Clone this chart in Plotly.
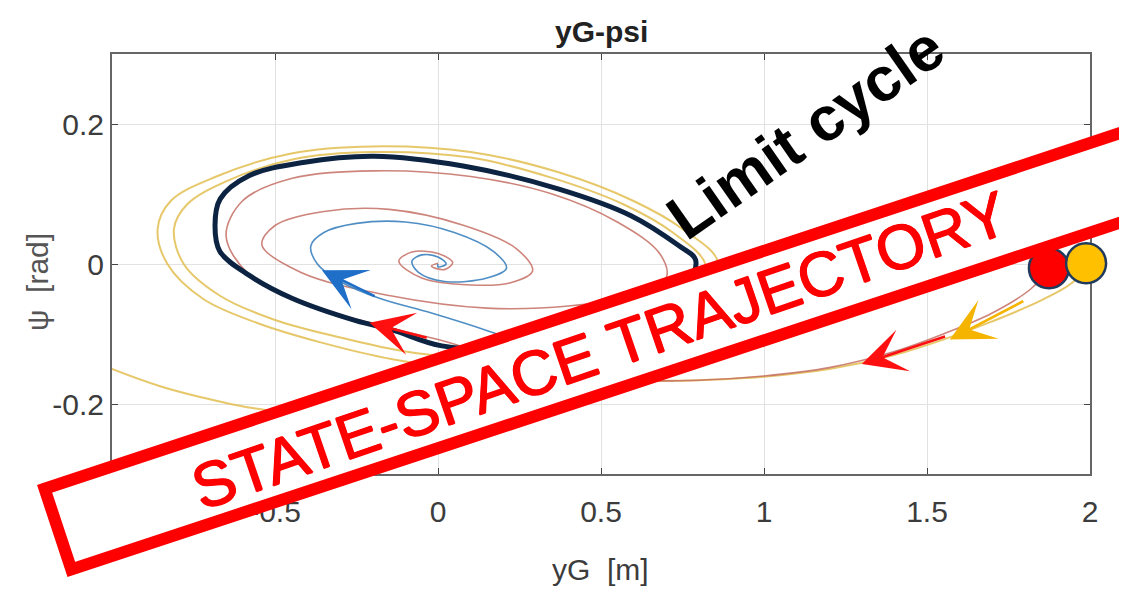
import plotly.graph_objects as go

# ---------------- data ----------------
x_tick_vals = [-0.5, 0, 0.5, 1, 1.5, 2]
x_tick_text = ["-0.5", "0", "0.5", "1", "1.5", "2"]
y_tick_vals = [-0.2, 0, 0.2]
y_tick_text = ["-0.2", "0", "0.2"]
x_range = [-1, 2]
y_range = [-0.3, 0.3]

# limit cycle (closed loop)
limit_x = [0.79, 0.736, 0.592, 0.371, 0.077, -0.196, -0.414, -0.58, -0.668, -0.684, -0.669, -0.58,
           -0.448, -0.252, -0.141, 0.012, 0.25, 0.5, 0.68, 0.77, 0.79]
limit_y = [0.006, 0.027, 0.069, 0.107, 0.140, 0.154, 0.145, 0.126, 0.093, 0.055, 0.018, -0.016,
           -0.049, -0.081, -0.094, -0.117, -0.12, -0.1, -0.06, -0.025, 0.006]

# yellow trajectory from the orange start point (first big swing)
yel_a_x = [1.99, 1.95, 1.85, 1.7, 1.55, 1.4, 1.2, 1.0, 0.8, 0.6, 0.3, 0.0, -0.25, -0.45, -0.58, -0.73, -0.85, -1.0, -1.1]
yel_a_y = [0.0, -0.025, -0.052, -0.082, -0.108, -0.13, -0.15, -0.161, -0.166, -0.168, -0.18, -0.2, -0.21, -0.212, -0.205, -0.19, -0.175, -0.15, -0.13]

# yellow spiral loops
yel_b_x = [0.75, 0.86, 0.75, 0.6, 0.37, 0.1, -0.2, -0.45, -0.68, -0.82, -0.86, -0.83, -0.72, -0.55, -0.36,
           -0.14, 0.1, 0.4, 0.65, 0.8, 0.82, 0.72, 0.57, 0.35, 0.1, -0.2, -0.44, -0.65, -0.77, -0.81,
           -0.78, -0.67, -0.5, -0.3, -0.1, 0.15, 0.45, 0.65]
yel_b_y = [-0.08, 0.0, 0.05, 0.09, 0.131, 0.16, 0.168, 0.158, 0.125, 0.09, 0.05, 0.0, -0.05, -0.085, -0.112,
           -0.136, -0.15, -0.14, -0.1, -0.045, 0.0, 0.045, 0.085, 0.123, 0.152, 0.16, 0.15, 0.118, 0.085, 0.05,
           0.0, -0.045, -0.08, -0.105, -0.125, -0.135, -0.12, -0.085]

# red trajectory from the red start point
red_x = [1.874, 1.82, 1.7, 1.55, 1.4, 1.2, 1.0, 0.8, 0.6, 0.4, 0.2, 0.0, -0.21, -0.42, -0.58, -0.65, -0.6,
         -0.45, -0.2, 0.1, 0.35, 0.55, 0.68, 0.7, 0.6, 0.4, 0.15, -0.15, -0.42, -0.54, -0.5, -0.35, -0.15,
         0.08, 0.24, 0.29, 0.22, 0.1, -0.05, -0.12, -0.08, 0.0, 0.045, 0.02, -0.02, 0.0]
red_y = [-0.006, -0.035, -0.07, -0.1, -0.125, -0.148, -0.16, -0.166, -0.166, -0.155, -0.135, -0.108, -0.084,
         -0.055, -0.015, 0.04, 0.09, 0.122, 0.133, 0.125, 0.1, 0.06, 0.015, -0.02, -0.045, -0.06, -0.063,
         -0.045, -0.012, 0.027, 0.055, 0.075, 0.078, 0.055, 0.022, -0.01, -0.027, -0.03, -0.02, 0.004, 0.017,
         0.015, 0.002, -0.008, -0.003, 0.001]

# blue trajectory
blue_x = [0.35, 0.156, -0.02, -0.18, -0.3, -0.37, -0.39, -0.35, -0.25, -0.1, 0.05, 0.17, 0.21, 0.15, 0.02,
          -0.06, -0.08, -0.05, 0.0, 0.025, 0.0, 0.0]
blue_y = [-0.13, -0.096, -0.07, -0.049, -0.025, 0.0, 0.026, 0.045, 0.058, 0.06, 0.045, 0.018, -0.006, -0.02,
          -0.025, -0.012, 0.004, 0.013, 0.01, 0.0, -0.004, 0.0]

# start points: [orange, red]
start_x = [1.988, 1.874]
start_y = [0.001, -0.006]
start_colors = ["#FFC000", "#FF0000"]

# direction arrows
arrow_tip_x = [-0.356, -0.21, 1.30, 1.57]
arrow_tip_y = [-0.009, -0.084, -0.143, -0.108]
arrow_tail_x = [-0.19, -0.03, 1.56, 1.80]
arrow_tail_y = [-0.047, -0.106, -0.103, -0.052]
arrow_colors = ["#1f6fc8", "#ff1010", "#ff1010", "#f5b400"]

# ---------------- layout geometry ----------------
W, H = 1127, 598
OFF = 8                      # page body margin of the rendered html
PL, PR, PT, PB = 112, 1090, 54, 474   # plot area on screen (px)
L, T = PL - OFF, PT - OFF
PW, PH = PR - PL, PB - PT
R, B = W - L - PW, H - T - PH
MARK_R = 20                  # start marker radius (px)


def px2paper(px, py):
    return (px - PL) / PW, (PB - py) / PH


def data2paper(x, y):
    return (x - x_range[0]) / (x_range[1] - x_range[0]), (y - y_range[0]) / (y_range[1] - y_range[0])


# red band (stroke centre line), screen px
band_px = [(44.6, 488.8), (1278.8, 80.6), (1305.5, 161.3), (71.3, 569.5)]

fig = go.Figure()

tick_font = dict(family="Liberation Sans Narrow, Arial Narrow, Liberation Sans, Arial", size=30, color="#3c3c3c")
spl = dict(shape="spline", smoothing=1.0)

fig.add_trace(go.Scatter(x=yel_a_x, y=yel_a_y, mode="lines", line=dict(color="rgba(226,190,80,0.85)", width=2, **spl), hoverinfo="skip"))
fig.add_trace(go.Scatter(x=yel_b_x, y=yel_b_y, mode="lines", line=dict(color="rgba(226,190,80,0.85)", width=2, **spl), hoverinfo="skip"))
fig.add_trace(go.Scatter(x=red_x, y=red_y, mode="lines", line=dict(color="rgba(196,110,100,0.85)", width=1.6, **spl), hoverinfo="skip"))
fig.add_trace(go.Scatter(x=blue_x, y=blue_y, mode="lines", line=dict(color="rgba(60,130,190,0.9)", width=1.6, **spl), hoverinfo="skip"))
fig.add_trace(go.Scatter(x=limit_x, y=limit_y, mode="lines", line=dict(color="#0c2342", width=5, **spl), hoverinfo="skip"))

axis_common = dict(showgrid=True, gridcolor="#e2e2e2", gridwidth=1, zeroline=False, showline=True,
                   linecolor="#666666", linewidth=2, mirror="ticks", ticks="inside", ticklen=6,
                   tickcolor="#444444", tickfont=tick_font)
fig.update_xaxes(range=x_range, tickvals=x_tick_vals, ticktext=x_tick_text, ticklabelstandoff=10, **axis_common)
fig.update_yaxes(range=y_range, tickvals=y_tick_vals, ticktext=y_tick_text, ticklabelstandoff=0, **axis_common)

shapes = []
pts = [px2paper(*p) for p in band_px]
path = "M " + " L ".join(f"{x:.4f},{y:.4f}" for x, y in pts) + " Z"
shapes.append(dict(type="path", path=path, xref="paper", yref="paper", layer="above",
                   fillcolor="white", line=dict(color="#ff0000", width=12)))
# orange start point sits on top of the band
ox, oy = data2paper(start_x[0], start_y[0])
shapes.append(dict(type="circle", xref="paper", yref="paper", layer="above", xsizemode="pixel", ysizemode="pixel",
                   xanchor=ox, yanchor=oy, x0=-MARK_R, x1=MARK_R, y0=-MARK_R, y1=MARK_R,
                   fillcolor=start_colors[0], line=dict(color="#1f3a5c", width=2.5)))

annotations = []
tx, ty = px2paper(601, 32)
annotations.append(dict(text="<b>yG-psi</b>", x=tx, y=ty, xref="paper", yref="paper", showarrow=False,
                        xanchor="center", yanchor="middle", font=dict(family="Liberation Sans, Arial", size=30, color="#222222")))
ax_, ay_ = px2paper(600, 569)
annotations.append(dict(text="yG  [m]", x=ax_, y=ay_, xref="paper", yref="paper", showarrow=False,
                        xanchor="center", yanchor="middle", font=tick_font))
ax_, ay_ = px2paper(37, 282)
annotations.append(dict(text="ψ  [rad]", x=ax_, y=ay_, xref="paper", yref="paper", showarrow=False, textangle=-90,
                        xanchor="center", yanchor="middle", font=dict(family=tick_font["family"], size=30, color="#555555")))
sx, sy = px2paper(600, 350)
annotations.append(dict(text="STATE-SPACE TRAJECTORY", x=sx, y=sy, xref="paper", yref="paper", showarrow=False,
                        textangle=-19, xanchor="center", yanchor="middle",
                        font=dict(family="Liberation Sans, Arial", size=63, color="#ff0000",
                                  shadow="0.7px 0 0 #ff0000, -0.7px 0 0 #ff0000, 0 0.7px 0 #ff0000, 0 -0.7px 0 #ff0000")))
lx, ly = px2paper(805, 132)
annotations.append(dict(text="<b>Limit cycle</b>", x=lx, y=ly, xref="paper", yref="paper", showarrow=False,
                        textangle=-35, xanchor="center", yanchor="middle",
                        font=dict(family="Liberation Sans, Arial", size=62, color="#000000")))
for tx_, ty_, sx_, sy_, c in zip(arrow_tip_x, arrow_tip_y, arrow_tail_x, arrow_tail_y, arrow_colors):
    annotations.append(dict(x=tx_, y=ty_, ax=sx_, ay=sy_, xref="x", yref="y", axref="x", ayref="y",
                            showarrow=True, arrowhead=3, arrowsize=2.8, arrowwidth=2.6, arrowcolor=c, text=""))

# red start point (below the band)
fig.add_trace(go.Scatter(x=start_x[1:], y=start_y[1:], mode="markers", cliponaxis=False,
                         marker=dict(size=2 * MARK_R, color=start_colors[1:], line=dict(color="#1f3a5c", width=2.5)),
                         hoverinfo="skip"))

fig.update_layout(width=W, height=H, margin=dict(l=L, r=R, t=T, b=B), paper_bgcolor="white",
                  plot_bgcolor="white", showlegend=False, shapes=shapes, annotations=annotations)

fig.write_html("out.html")
